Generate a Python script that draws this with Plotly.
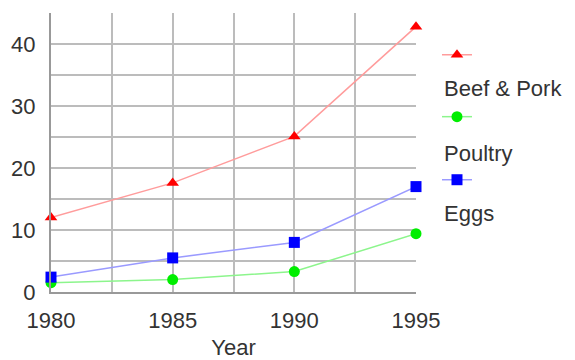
import plotly.graph_objects as go

years = [1980, 1985, 1990, 1995]
beef_pork = [12, 17.6, 25.1, 42.8]
poultry = [1.5, 2.0, 3.3, 9.4]
eggs = [2.4, 5.5, 8.0, 17.0]

series = [
    ("Beef & Pork", beef_pork, "#ff9c9c", "#ff0000", "triangle-up", "legend"),
    ("Poultry", poultry, "#8cf58c", "#00ee00", "circle", "legend2"),
    ("Eggs", eggs, "#9a9aff", "#0000ff", "square", "legend3"),
]

FONT = "Liberation Sans, Arial, sans-serif"
TXT = "#333333"
FS = 22

fig = go.Figure()
for name, vals, lc, mc, sym, lg in series:
    fig.add_trace(go.Scatter(
        x=years, y=vals, name=name, mode="lines+markers",
        line=dict(color=lc, width=1.5),
        marker=dict(color=mc, symbol=sym, size=11),
        legend=lg, cliponaxis=False,
    ))

# Each legend shows only the symbol; its label sits underneath as an annotation
legend_y = [0.849, 0.627, 0.401]
label_y = [0.728, 0.498, 0.283]
legend_common = dict(
    x=1.0575, xanchor="left", yanchor="middle",
    font=dict(family=FONT, size=14, color="rgba(0,0,0,0)"),
    bgcolor="rgba(0,0,0,0)", itemwidth=30, borderwidth=0,
)
fig.update_layout(
    legend=dict(y=legend_y[0], **legend_common),
    legend2=dict(y=legend_y[1], **legend_common),
    legend3=dict(y=legend_y[2], **legend_common),
)
for (name, *_), ly in zip(series, label_y):
    fig.add_annotation(
        text=name, xref="paper", yref="paper", x=1.071, y=ly,
        xanchor="left", yanchor="middle", showarrow=False,
        font=dict(family=FONT, size=FS, color=TXT),
    )

grid = "#bcbcbc"
fig.update_xaxes(
    range=[1980, 1995], tickvals=[1980, 1985, 1990, 1995],
    showgrid=True, gridcolor=grid, gridwidth=1.5,
    minor=dict(dtick=2.5, tick0=1980, showgrid=True, gridcolor=grid, gridwidth=1.5),
    showline=True, linecolor="#999999", linewidth=2, mirror=False,
    ticks="outside", ticklen=8, tickcolor="rgba(0,0,0,0)",
    tickfont=dict(family=FONT, size=FS, color=TXT),
    title=dict(text="Year", font=dict(family=FONT, size=FS, color=TXT), standoff=12),
    zeroline=False,
)
fig.update_yaxes(
    range=[0, 45], tickvals=[0, 10, 20, 30, 40],
    showgrid=True, gridcolor=grid, gridwidth=1.5,
    minor=dict(dtick=5, tick0=0, showgrid=True, gridcolor=grid, gridwidth=1.5),
    showline=True, linecolor="#999999", linewidth=2,
    ticks="outside", ticklen=9, tickcolor="rgba(0,0,0,0)",
    tickfont=dict(family=FONT, size=FS, color=TXT),
    zeroline=False,
)
fig.update_layout(
    width=575, height=360,
    margin=dict(l=51, r=159, t=13, b=68, autoexpand=False),
    plot_bgcolor="white", paper_bgcolor="white",
    showlegend=True,
)
fig.write_html("out.html")
